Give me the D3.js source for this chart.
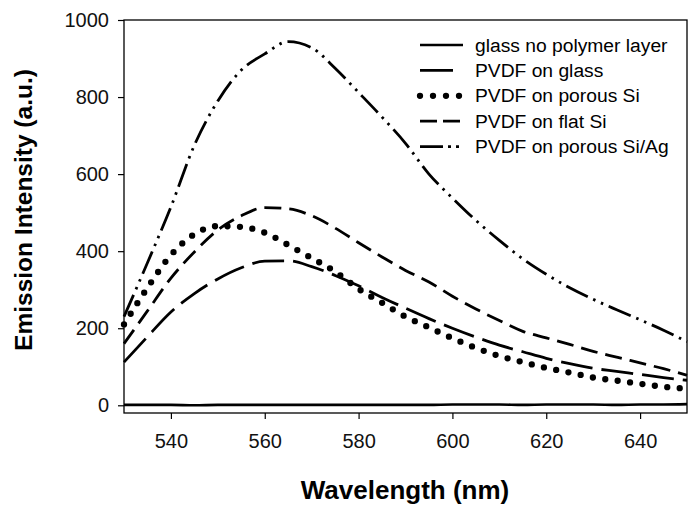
<!DOCTYPE html>
<html>
<head>
<meta charset="utf-8">
<script src="https://cdn.jsdelivr.net/npm/d3@7"></script>
<style>
    body { margin: 0; background: #fff; }
    text { font-family: "Liberation Sans", Arial, sans-serif; fill: #000; }
</style>
</head>
<body>
<svg id="chart" width="690" height="506"></svg>
<script>
// wavelength grid (nm)
var wavelengths = [530, 535, 540, 545, 550, 555, 560, 565, 570, 575, 580, 585, 590,
                   595, 600, 605, 610, 615, 620, 625, 630, 635, 640, 645, 650];

// emission intensity values (a.u.)
var glassNoPolymer = [1, 1, 1, 0, 1, 1, 1, 1, 1, 1, 1, 1, 1, 1, 2, 2, 2, 1, 2, 2, 2, 1, 2, 2, 3];
var pvdfGlass      = [112, 178, 242, 290, 328, 357, 374, 375, 360, 337, 310, 280, 252,
                      225, 200, 177, 156, 139, 122, 108, 96, 88, 80, 72, 65];
var pvdfPorousSi   = [210, 305, 390, 444, 465, 463, 448, 416, 382, 347, 302, 266, 230,
                      202, 174, 149, 128, 112, 97, 85, 72, 64, 56, 48, 43];
var pvdfFlatSi     = [160, 245, 330, 398, 455, 492, 513, 510, 492, 460, 422, 385, 350,
                      320, 283, 250, 220, 192, 175, 158, 140, 125, 110, 95, 78];
var pvdfPorousSiAg = [230, 370, 515, 675, 790, 870, 912, 944, 928, 875, 812, 748, 680,
                      600, 538, 480, 428, 380, 340, 305, 275, 248, 222, 195, 165];

var seriesNames = ["glass no polymer layer", "PVDF on glass", "PVDF on porous Si",
                   "PVDF on flat Si", "PVDF on porous Si/Ag"];
var seriesValues = [glassNoPolymer, pvdfGlass, pvdfPorousSi, pvdfFlatSi, pvdfPorousSiAg];

var xTicks = [540, 560, 580, 600, 620, 640];
var yTicks = [0, 200, 400, 600, 800, 1000];

// line styles, same order as the series
var styles = [
    {dash: null, width: 2.6, cap: "butt", legendDash: null},
    {dash: "32,9", width: 2.8, cap: "butt", legendDash: "33,20"},
    {dash: "0,12.5", width: 6.3, cap: "round", legendDash: "0,13"},
    {dash: "17,8", width: 2.8, cap: "butt", legendDash: "17,6"},
    {dash: "24,6,2.5,6,2.5,6", width: 2.8, cap: "butt", legendDash: "23,5,3,5,3,20"}
];

var svg = d3.select("#chart");
var plotLeft = 124, plotRight = 687, plotTop = 20, plotBottom = 413;

var x = d3.scaleLinear().domain([530, 650]).range([plotLeft, plotRight]);
var y = d3.scaleLinear().domain([-20, 1000]).range([plotBottom, plotTop]);

// frame
svg.append("rect")
    .attr("x", plotLeft).attr("y", plotTop)
    .attr("width", plotRight - plotLeft).attr("height", plotBottom - plotTop)
    .style("fill", "none").style("stroke", "#000").style("stroke-width", 1.3);

// axes
var yAxis = svg.append("g")
    .attr("transform", "translate(" + plotLeft + ",0)")
    .call(d3.axisLeft(y).tickValues(yTicks).tickFormat(d3.format("d"))
        .tickSize(6).tickPadding(9).tickSizeOuter(0));
var xAxis = svg.append("g")
    .attr("transform", "translate(0," + plotBottom + ")")
    .call(d3.axisBottom(x).tickValues(xTicks).tickFormat(d3.format("d"))
        .tickSize(6).tickPadding(15).tickSizeOuter(0));

[xAxis, yAxis].forEach(function (g) {
    g.select(".domain").remove();
    g.selectAll("line").style("stroke", "#000").style("stroke-width", 1.2);
    g.selectAll("text").style("font-size", "20px").style("fill", "#111");
});

// axis titles
svg.append("text")
    .attr("x", 405).attr("y", 499)
    .attr("text-anchor", "middle")
    .style("font-size", "26px").style("font-weight", "bold")
    .text("Wavelength (nm)");

svg.append("text")
    .attr("transform", "translate(32,210) rotate(-90)")
    .attr("text-anchor", "middle")
    .style("font-size", "24.5px").style("font-weight", "bold")
    .text("Emission Intensity (a.u.)");

// curves
var line = d3.line()
    .x(function (d) { return x(d[0]); })
    .y(function (d) { return y(d[1]); })
    .curve(d3.curveMonotoneX);

var plot = svg.append("g");
seriesValues.forEach(function (vals, i) {
    var pts = wavelengths.map(function (w, j) { return [w, vals[j]]; });
    plot.append("path")
        .datum(pts)
        .attr("d", line)
        .style("fill", "none")
        .style("stroke", "#000")
        .style("stroke-width", styles[i].width)
        .style("stroke-linecap", styles[i].cap)
        .style("stroke-dasharray", styles[i].dash);
});

// legend
var legend = svg.append("g").attr("transform", "translate(420,45)");
seriesNames.forEach(function (name, i) {
    var row = legend.append("g").attr("transform", "translate(0," + (i * 25.4) + ")");
    row.append("line")
        .attr("x1", 0).attr("x2", 43)
        .attr("y1", 0).attr("y2", 0)
        .style("stroke", "#000")
        .style("stroke-width", styles[i].width)
        .style("stroke-linecap", styles[i].cap)
        .style("stroke-dasharray", styles[i].legendDash);
    row.append("text")
        .attr("transform", "translate(55,6.5) scale(1.07,1)")
        .style("font-size", "18px")
        .text(name);
});
</script>
</body>
</html>
